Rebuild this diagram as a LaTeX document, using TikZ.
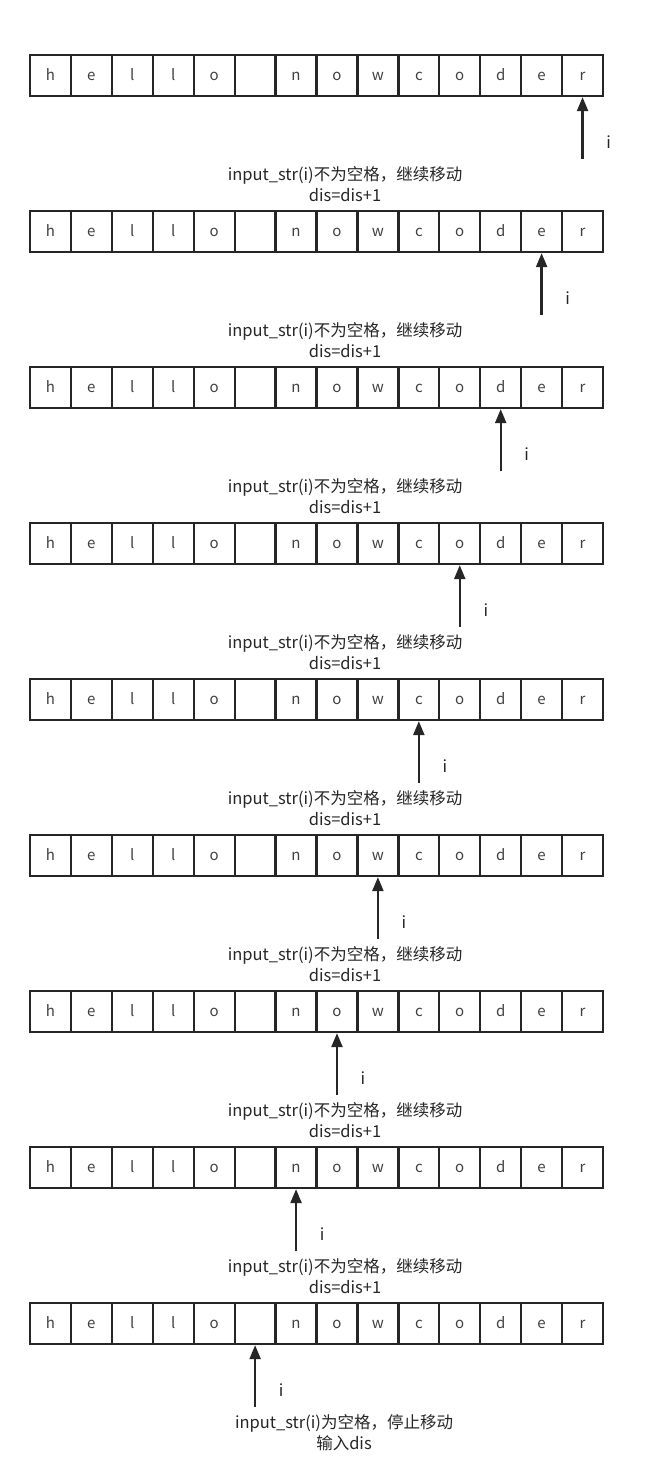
\documentclass[tikz,border=0pt]{standalone}
\usepackage{fontspec}
\setmainfont{Noto Sans CJK SC}
\usepackage{xcolor}
\usetikzlibrary{positioning,arrows.meta}

\begin{document}
\begin{tikzpicture}[x=1pt,y=-1pt,
    cell/.style={draw=black!85, line width=2.3pt, minimum width=40.93pt, minimum height=41pt,
      inner sep=0pt, text height=10pt, text depth=0pt, text=black!75, font=\fontsize{15}{17}\selectfont},
    ptr/.style={-{Triangle[length=14pt,width=11pt]}, line width=2.3pt, draw=black!85},
    note/.style={align=center, inner sep=0pt, text=black!85, font=\fontsize{16.5}{21}\selectfont}]
    \useasboundingbox (0,0) rectangle (659,1469);
    % rows of the string
    \foreach \r in {1,...,9}{
        \pgfmathsetmacro\rowtop{55+156*(\r-1)}
        \foreach \ch [count=\k] in {h,e,l,l,o,{},n,o,w,c,o,d,e,r}
            \node[cell] (c\r-\k) at ({30+40.93*(\k-0.5)},{\rowtop+20.5}) {\ch};
    }
    % pointer i under each row
    \foreach \r in {1,...,9}{
        \pgfmathtruncatemacro\k{\r<9 ? 15-\r : 6}
        \coordinate[below=62pt of c\r-\k.south] (t\r);
        \draw[ptr] (t\r) -- (c\r-\k.south) node[note, pos=0.27, xshift=26pt] (i\r) {i};
    }
    % notes
    \foreach \r in {1,...,8}{
        \pgfmathsetmacro\ny{55+156*(\r-1)+41+88}
        \node[note] (n\r) at (345,\ny) {input\_str(i)不为空格，继续移动\\dis=dis+1};
    }
    \node[note] (n9) at (344,1433) {input\_str(i)为空格，停止移动\\输入dis};
\end{tikzpicture}
\end{document}
